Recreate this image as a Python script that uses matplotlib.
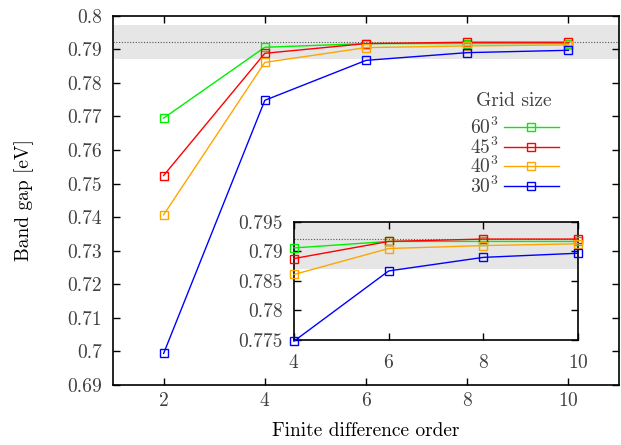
import matplotlib
matplotlib.use("Agg")
import matplotlib.pyplot as plt
from matplotlib.ticker import FuncFormatter

plt.rcParams["font.family"] = "serif"
plt.rcParams["font.serif"] = ["cmr10"]
plt.rcParams["mathtext.fontset"] = "cm"
plt.rcParams["axes.formatter.use_mathtext"] = True
plt.rcParams["font.size"] = 14
txt = "#404040"
plt.rcParams["text.color"] = txt
plt.rcParams["xtick.labelcolor"] = txt
plt.rcParams["ytick.labelcolor"] = txt

# finite difference order
order = [2, 4, 6, 8, 10]

# band gap [eV] per grid size
gap_60 = [0.7695, 0.7906, 0.7917, 0.7917, 0.7917]
gap_45 = [0.7524, 0.7888, 0.7917, 0.7921, 0.7921]
gap_40 = [0.7407, 0.7861, 0.7905, 0.7910, 0.7913]
gap_30 = [0.6994, 0.7748, 0.7867, 0.7890, 0.7897]

labels = ["$60^3$", "$45^3$", "$40^3$", "$30^3$"]
colors = ["#00ee00", "#ff0000", "#ffa500", "#0000ff"]
series = [gap_60, gap_45, gap_40, gap_30]

ref_gap = 0.7921
ref_tol = 0.005

fig = plt.figure(figsize=(6.21, 4.45), dpi=100)
ax = fig.add_axes([0.182, 0.1348, 0.8148, 0.8299])
ins = fig.add_axes([0.4734, 0.236, 0.4573, 0.2652])

fmt = FuncFormatter(lambda v, p: "%g" % round(v, 4))

for a in (ax, ins):
    a.axhspan(ref_gap - ref_tol, ref_gap + ref_tol, color="#e6e6e6", lw=0, zorder=0)
    a.axhline(ref_gap, color="#555555", ls=(0, (1, 1.5)), lw=0.8, zorder=1)
    # inset only shows orders >= 4
    start = 0 if a is ax else 1
    for y, c, lab in zip(series, colors, labels):
        a.plot(order[start:], y[start:], color=c, lw=1.0, marker="s", ms=6,
               mfc="none", mec=c, mew=1.0, label=lab, zorder=3,
               clip_on=(a is ax))
    a.tick_params(direction="in", top=True, right=True, length=5, width=1,
                  color="black")
    a.tick_params(axis="y", pad=8)
    for s in a.spines.values():
        s.set_linewidth(1.2)
    a.yaxis.set_major_formatter(fmt)

ax.tick_params(axis="x", pad=5)
ins.tick_params(axis="x", pad=10)

ax.set_xlim(1, 11)
ax.set_ylim(0.69, 0.8)
ax.set_xticks([2, 4, 6, 8, 10])
ax.set_yticks([0.69 + 0.01 * i for i in range(12)])
ax.set_xlabel("Finite difference order", labelpad=9)
ax.set_ylabel("Band gap [eV]", labelpad=24)

ins.set_xlim(4, 10)
ins.set_ylim(0.775, 0.795)
ins.set_xticks([4, 6, 8, 10])
ins.set_yticks([0.775, 0.78, 0.785, 0.79, 0.795])
ins.set_facecolor("white")

leg = ax.legend(loc="upper left", bbox_to_anchor=(460 / 621, 1 - 82 / 445),
                bbox_transform=fig.transFigure, frameon=False, markerfirst=False,
                title="Grid size", handlelength=2.8, labelspacing=-0.08,
                handletextpad=0.3, borderpad=0)
leg._legend_box.sep = 5

fig.savefig("out.png", dpi=100)
